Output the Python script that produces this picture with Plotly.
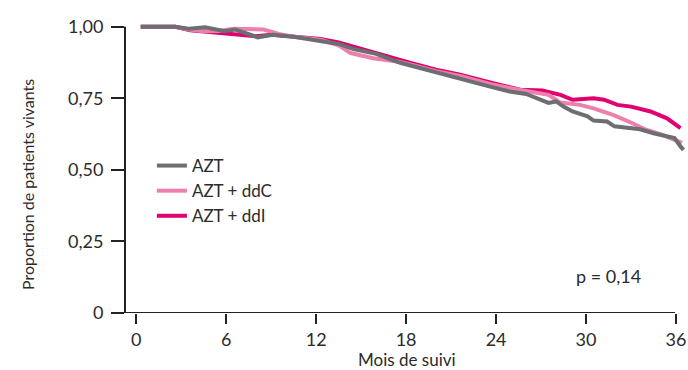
import plotly.graph_objects as go

# ---- data ----
azt_months = [0.3, 2.6, 3.5, 4.6, 5.9, 6.6, 8.1, 9.1, 10.5, 12.3, 13.5, 14.5, 16.0, 17.6, 18.3,
              20.0, 21.6, 23.6, 24.9, 26.0, 26.7, 27.5, 28.0, 28.5, 29.1, 30.1, 30.5, 31.4,
              31.9, 32.7, 33.6, 34.5, 35.4, 35.9, 36.3, 36.5]
azt_surv = [1.0, 1.0, 0.993, 0.998, 0.984, 0.99, 0.963, 0.972, 0.965, 0.952, 0.94, 0.922, 0.905,
            0.874, 0.864, 0.84, 0.818, 0.791, 0.774, 0.765, 0.751, 0.734, 0.739, 0.721, 0.704,
            0.687, 0.672, 0.669, 0.652, 0.648, 0.642, 0.628, 0.619, 0.611, 0.582, 0.57]

ddc_months = [0.3, 2.6, 3.5, 4.5, 5.5, 6.5, 8.5, 9.5, 10.5, 12.3, 13.5, 14.3, 15.8, 16.5, 17.5,
              18.3, 20.0, 21.6, 23.6, 25.0, 26.5, 27.5, 28.3, 29.6, 30.5, 31.8, 33.1, 34.0,
              35.1, 36.4]
ddc_surv = [1.0, 1.0, 0.99, 0.984, 0.985, 0.993, 0.99, 0.975, 0.965, 0.955, 0.935, 0.908, 0.89,
            0.885, 0.878, 0.868, 0.845, 0.828, 0.8, 0.785, 0.772, 0.762, 0.735, 0.727, 0.715,
            0.692, 0.663, 0.64, 0.622, 0.594]

ddi_months = [0.3, 2.6, 3.6, 5.0, 6.5, 8.0, 9.0, 10.5, 12.3, 13.5, 15.6, 17.0, 18.3, 20.0, 21.6,
              23.6, 25.6, 27.1, 28.3, 29.1, 30.5, 31.2, 32.1, 33.0, 34.3, 35.4, 36.3]
ddi_surv = [1.0, 1.0, 0.988, 0.982, 0.975, 0.967, 0.972, 0.965, 0.957, 0.945, 0.914, 0.89, 0.874,
            0.85, 0.832, 0.805, 0.78, 0.777, 0.762, 0.745, 0.75, 0.745, 0.727, 0.721, 0.704,
            0.68, 0.646]

x_ticks = [0, 6, 12, 18, 24, 30, 36]
y_ticks = [0, 0.25, 0.5, 0.75, 1.0]
y_tick_labels = ["0", "0,25", "0,50", "0,75", "1,00"]

series_names = ["AZT", "AZT + ddC", "AZT + ddI"]
colors = ["#6d6e71", "#ec7fad", "#e0006f"]

FONT = "Lato"
TXT = "#2b2b2b"

fig = go.Figure()
for name, xs, ys, c in zip(series_names,
                           [azt_months, ddc_months, ddi_months],
                           [azt_surv, ddc_surv, ddi_surv], colors):
    fig.add_trace(go.Scatter(x=xs, y=ys, mode="lines", name=name,
                             line=dict(color=c, width=4)))

# draw order: keep AZT on top
fig.data = (fig.data[2], fig.data[1], fig.data[0])

fig.update_layout(
    width=688, height=370,
    margin=dict(l=125, r=3, t=21, b=57),
    plot_bgcolor="white", paper_bgcolor="white",
    font=dict(family=FONT, color=TXT, size=18),
    showlegend=True,
    legend=dict(x=0.048, y=0.565, xanchor="left", yanchor="top",
                font=dict(size=17, family=FONT, color=TXT),
                traceorder="reversed", bgcolor="rgba(0,0,0,0)",
                tracegroupgap=0, itemwidth=30),
    xaxis=dict(range=[-0.75, 36.6], tickvals=x_ticks, ticktext=[str(v) for v in x_ticks],
               showgrid=False, zeroline=False, showline=False,
               ticks="outside", ticklen=10, tickwidth=2, tickcolor="#222",
               tickfont=dict(size=18, family=FONT, color=TXT)),
    yaxis=dict(range=[0, 1.02], tickvals=y_ticks, ticktext=y_tick_labels,
               showgrid=False, zeroline=False, showline=False,
               ticks="outside", ticklen=13, tickwidth=2, tickcolor="#222",
               tickfont=dict(size=18, family=FONT, color=TXT), ticklabelstandoff=4),
)

# axis lines
fig.add_shape(type="line", xref="paper", yref="y", x0=0, x1=0, y0=0, y1=1.0,
              line=dict(color="#222", width=2))
fig.add_shape(type="line", xref="paper", yref="y", x0=0, x1=(675 - 125) / 560, y0=0, y1=0,
              line=dict(color="#222", width=2))

fig.add_annotation(text="Proportion de patients vivants", xref="paper", yref="paper",
                   x=(27 - 125) / 560, y=(313 - 185) / 292, textangle=-90,
                   showarrow=False, xanchor="center", yanchor="middle",
                   font=dict(size=16, family=FONT, color=TXT))
fig.add_annotation(text="Mois de suivi", xref="paper", yref="paper",
                   x=(407 - 125) / 560, y=(313 - 359) / 292,
                   showarrow=False, xanchor="center", yanchor="middle",
                   font=dict(size=17, family=FONT, color=TXT))
fig.add_annotation(text="p = 0,14", xref="paper", yref="paper",
                   x=(608 - 125) / 560, y=(313 - 276) / 292,
                   showarrow=False, xanchor="center", yanchor="middle",
                   font=dict(size=18, family=FONT, color=TXT))

fig.write_html("out.html", config={"displayModeBar": False},
               post_script="document.body.style.margin='0';document.body.style.overflow='hidden';")
